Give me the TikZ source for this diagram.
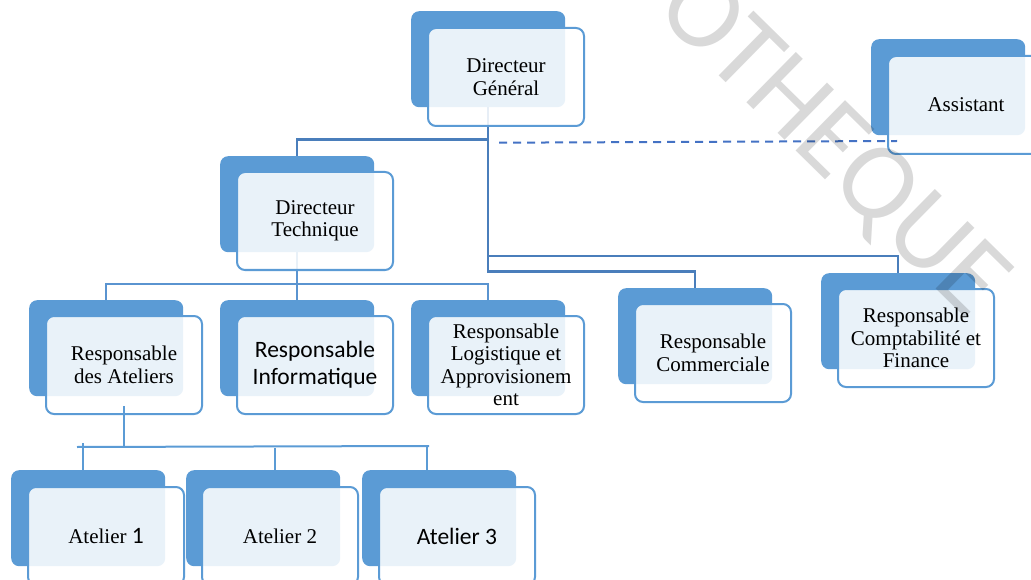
\documentclass[tikz,border=0pt]{standalone}
\usepackage{fontspec}
\setmainfont{Liberation Serif}
\newfontfamily\calfont{Carlito}

\definecolor{boxblue}{HTML}{5B9BD5}
\definecolor{linkdark}{HTML}{4A7EBB}
\definecolor{linkmid}{HTML}{5A94D0}
\definecolor{dashblue}{HTML}{4472C4}

\begin{document}
\begin{tikzpicture}[x=1pt,y=-1pt,
        backbox/.style={rectangle, rounded corners=8pt, fill=boxblue, minimum width=154pt,
            minimum height=96pt, inner sep=0pt, anchor=north west},
        frontbox/.style={rectangle, rounded corners=8pt, draw=boxblue, line width=2pt, fill=white,
            fill opacity=0.87, text opacity=1, minimum width=156pt, minimum height=98pt,
            inner sep=0pt, align=center, anchor=north west, font=\fontsize{21}{22.5}\selectfont},
        calibri/.style={font=\calfont\fontsize{23.5}{27}\selectfont},
        toplink/.style={draw=linkdark, line width=2.5pt},
        midlink/.style={draw=linkmid, line width=2.5pt},
        lowlink/.style={draw=boxblue, line width=2pt},
        dashlink/.style={draw=dashblue, line width=2pt, dash pattern=on 8pt off 6pt},
        watermark/.style={font=\calfont\fontsize{110}{110}\selectfont, text=black, text opacity=0.15}]

        \useasboundingbox (0,0) rectangle (1031,580);
        \clip (0,0) rectangle (1031,580);

        % the dark boxes behind
        \node[backbox] (dg) at (411,11) {};
        \node[backbox] (as) at (871,39) {};
        \node[backbox] (dt) at (220,156) {};
        \node[backbox] (ra) at (29,300) {};
        \node[backbox] (ri) at (220,300) {};
        \node[backbox] (rl) at (411,300) {};
        \node[backbox] (rc) at (618,288) {};
        \node[backbox] (rf) at (821,273) {};
        \node[backbox] (a1) at (11,470) {};
        \node[backbox] (a2) at (186,470) {};
        \node[backbox] (a3) at (362,470) {};

        % the lines between the levels
        \coordinate (lvlA) at (0,139.5);
        \coordinate (lvlB) at (0,256);
        \coordinate (lvlC) at (0,271.5);
        \coordinate (lvlD) at (0,284);
        \draw[toplink] (dg.south) |- (dt.north |- lvlA) -- (dt.north);
        \draw[toplink] (dg.south) |- (rf.north |- lvlB) -- (rf.north);
        \draw[toplink] (dg.south) |- (rc.north |- lvlC) -- (rc.north);
        \draw[midlink] (dt.south) |- (ra.north |- lvlD) -- (ra.north);
        \draw[midlink] (dt.south) -- (ri.north);
        \draw[midlink] (dt.south) |- (rl.north |- lvlD) -- (rl.north);

        % the light boxes with the texts
        \node[frontbox] (dgf) at ([shift={(16pt,-16pt)}]dg.north west) {Directeur\\Général};
        \node[frontbox] (asf) at ([shift={(16pt,-16pt)}]as.north west) {Assistant};
        \node[frontbox] (dtf) at ([shift={(16pt,-15pt)}]dt.north west) {Directeur\\Technique};
        \node[frontbox] (raf) at ([shift={(16pt,-15pt)}]ra.north west) {Responsable\\des Ateliers};
        \node[frontbox, calibri] (rif) at ([shift={(16pt,-15pt)}]ri.north west) {Responsable\\Informatique};
        \node[frontbox] (rlf) at ([shift={(16pt,-15pt)}]rl.north west)
            {Responsable\\Logistique et\\Approvisionem\\ent};
        \node[frontbox] (rcf) at ([shift={(16pt,-15pt)}]rc.north west) {Responsable\\Commerciale};
        \node[frontbox] (rff) at ([shift={(16pt,-15pt)}]rf.north west)
            {Responsable\\Comptabilité et\\Finance};
        \node[frontbox] (a1f) at ([shift={(16pt,-16pt)}]a1.north west)
            {Atelier {\calfont\fontsize{23.5}{27}\selectfont 1}};
        \node[frontbox] (a2f) at ([shift={(15pt,-16pt)}]a2.north west) {Atelier 2};
        \node[frontbox, calibri] (a3f) at ([shift={(16pt,-16pt)}]a3.north west) {Atelier 3};

        % the ateliers
        \coordinate (busL) at (77,447);
        \coordinate (busR) at (429,446);
        \draw[lowlink] ([yshift=9pt]raf.south) -- ++(0,42);
        \draw[lowlink] (busL) -- (busR);
        \draw[lowlink] ([xshift=-5pt]a1.north) -- ++(0,-27);
        \draw[lowlink] ([xshift=12pt]a2.north) -- ++(0,-22);
        \draw[lowlink] ([xshift=-12pt]a3.north) -- ++(0,-25);

        % the assistant
        \coordinate (dashstart) at (499,142.7);
        \draw[dashlink] (dashstart) -- ([shift={(10pt,14pt)}]asf.south west);

        % watermark
        \node[watermark, rotate=-44.5] (wm) at (831,146) {OTHEQUE};
\end{tikzpicture}
\end{document}
